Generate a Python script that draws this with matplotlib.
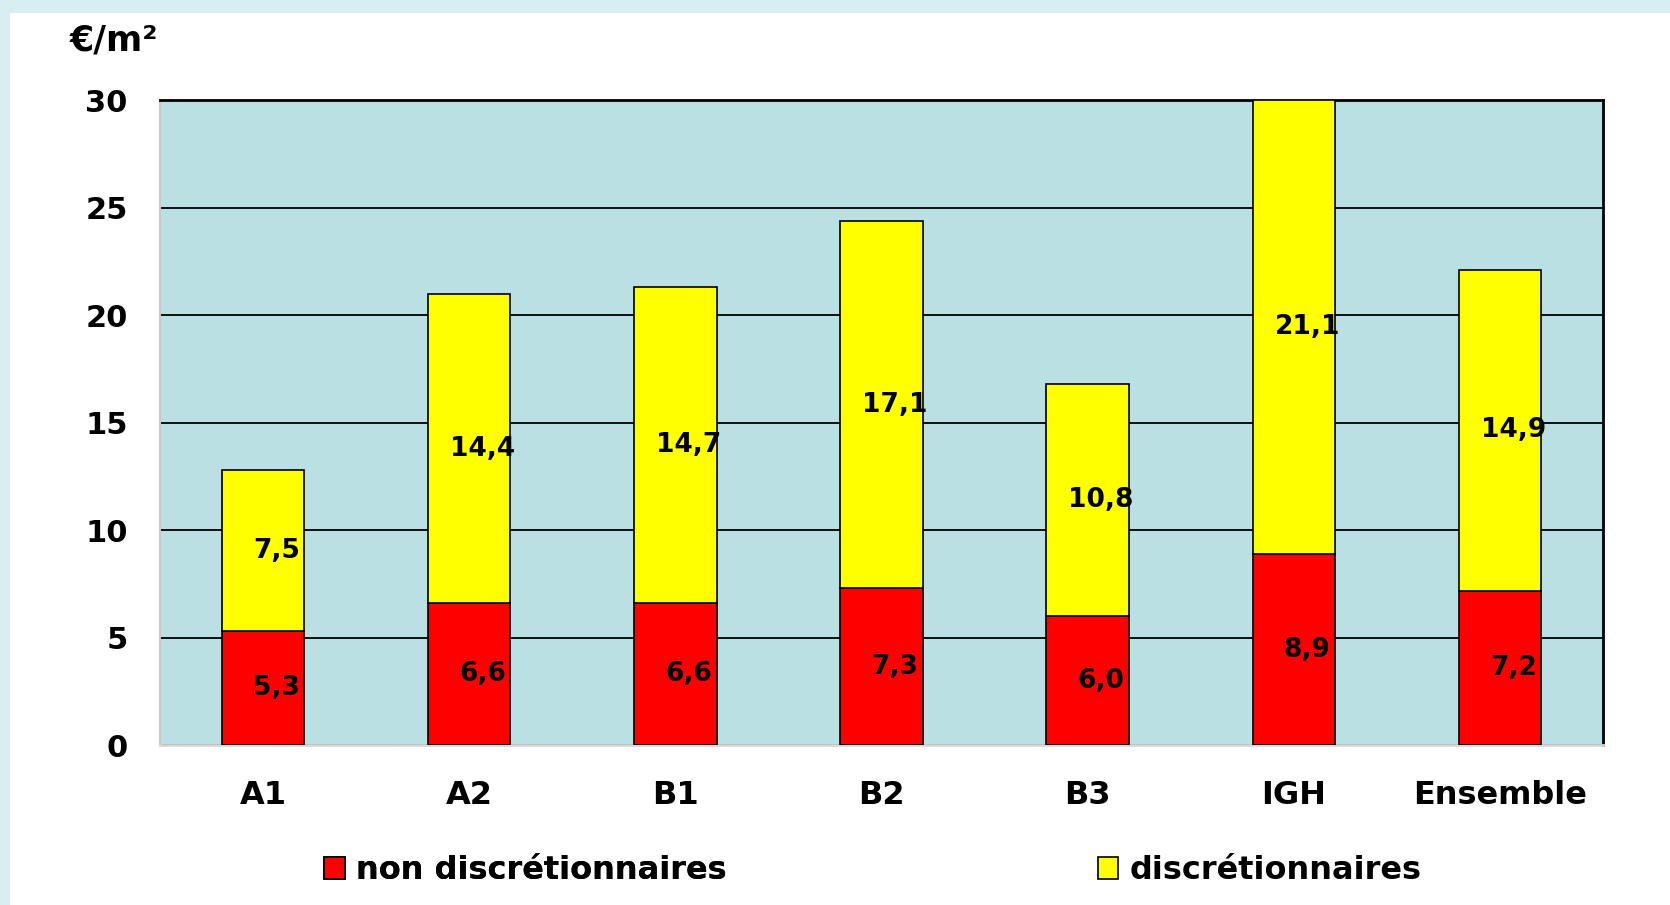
import matplotlib.pyplot as plt
import matplotlib.patches as mpatches
import numpy as np

# categories and values (euros per m2)
categories = ['A1', 'A2', 'B1', 'B2', 'B3', 'IGH', 'Ensemble']
non_discr = [5.3, 6.6, 6.6, 7.3, 6.0, 8.9, 7.2]
discr = [7.5, 14.4, 14.7, 17.1, 10.8, 21.1, 14.9]
y_ticks = [0, 5, 10, 15, 20, 25, 30]

plt.rcParams['font.family'] = 'DejaVu Sans'
plt.rcParams['font.weight'] = 'bold'

fig = plt.figure(figsize=(16.7, 9.05), dpi=100)
fig.patch.set_facecolor('#d9eef1')

# white inner panel
panel = mpatches.Rectangle((10 / 1670, 0), 1, 1 - 13 / 905, transform=fig.transFigure,
                           facecolor='white', edgecolor='none', zorder=0)
fig.add_artist(panel)

ax = fig.add_axes([0.0957, 0.1765, 0.8643, 0.7125])
ax.set_facecolor('#bbe0e3')
ax.set_zorder(1)

x = np.arange(len(categories))
w = 0.4
ax.bar(x, non_discr, w, color='#ff0000', edgecolor='black', linewidth=1.2, zorder=3)
ax.bar(x, discr, w, bottom=non_discr, color='#ffff00', edgecolor='black', linewidth=1.2, zorder=3)

# data labels, centred in each segment (slightly right, as in the original)
for i in range(len(categories)):
    ax.text(x[i] + 0.065, non_discr[i] / 2, f"{non_discr[i]:.1f}".replace('.', ','),
            ha='center', va='center', fontsize=19, fontweight='bold', zorder=4)
    ax.text(x[i] + 0.065, non_discr[i] + discr[i] / 2, f"{discr[i]:.1f}".replace('.', ','),
            ha='center', va='center', fontsize=19, fontweight='bold', zorder=4)

ax.set_xlim(-0.5, len(categories) - 0.5)
ax.set_ylim(0, 30)
ax.set_yticks(y_ticks)
ax.set_yticklabels([str(t) for t in y_ticks])
ax.set_xticks(x)
ax.set_xticklabels(categories)
ax.tick_params(axis='y', length=0, pad=23, labelsize=22)
ax.tick_params(axis='x', length=0, pad=25, labelsize=23)

ax.yaxis.grid(True, color='black', linewidth=1.3, zorder=1)
ax.set_axisbelow(True)

ax.spines['top'].set_color('black')
ax.spines['top'].set_linewidth(2)
ax.spines['right'].set_color('black')
ax.spines['right'].set_linewidth(2)
ax.spines['left'].set_color('#c8c8c8')
ax.spines['left'].set_linewidth(1.5)
ax.spines['bottom'].set_color('#d8d8d8')
ax.spines['bottom'].set_linewidth(2)

fig.text(0.0415, 0.955, '€/m²', fontsize=25, fontweight='bold', ha='left', va='center')

red_patch = mpatches.Patch(facecolor='#ff0000', edgecolor='black', linewidth=1.2)
yel_patch = mpatches.Patch(facecolor='#ffff00', edgecolor='black', linewidth=1.2)

leg1 = fig.legend([red_patch], ['non discrétionnaires'], loc='center left',
                  bbox_to_anchor=(0.177, 0.038), frameon=False, fontsize=23,
                  handlelength=0.65, handleheight=0.65, handletextpad=0.35)
fig.add_artist(leg1)
fig.legend([yel_patch], ['discrétionnaires'], loc='center left',
           bbox_to_anchor=(0.640, 0.038), frameon=False, fontsize=23,
           handlelength=0.65, handleheight=0.65, handletextpad=0.35)

fig.savefig('out.png', dpi=100, facecolor=fig.get_facecolor())
